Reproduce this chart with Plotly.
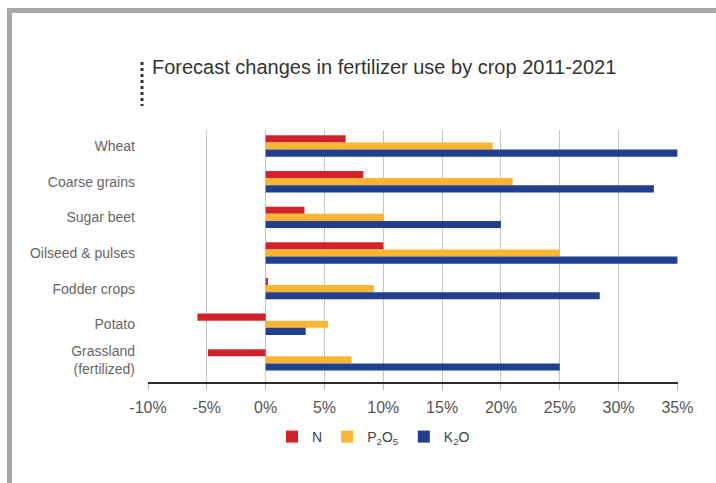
import plotly.graph_objects as go

crops = ["Wheat", "Coarse grains", "Sugar beet", "Oilseed & pulses",
         "Fodder crops", "Potato", "Grassland<br>(fertilized)"]
n_vals = [6.8, 8.3, 3.3, 10.0, 0.2, -5.8, -4.9]
p2o5_vals = [19.3, 21.0, 10.0, 25.0, 9.2, 5.3, 7.3]
k2o_vals = [35.0, 33.0, 20.0, 35.0, 28.4, 3.4, 25.0]
tick_vals = [-10, -5, 0, 5, 10, 15, 20, 25, 30, 35]
tick_text = ["-10%", "-5%", "0%", "5%", "10%", "15%", "20%", "25%", "30%", "35%"]

W, H = 716, 483
ML, MR, MT, MB = 148, 38, 130, 101
PW, PH = W - ML - MR, H - MT - MB

def px(x):
    return (x - ML) / PW

def py(y):
    return (H - MB - y) / PH

FONT = "Liberation Sans, Arial, sans-serif"

fig = go.Figure()
fig.add_trace(go.Bar(y=crops, x=n_vals, name="N", orientation="h",
                     marker=dict(color="#d2232a", line=dict(width=0))))
fig.add_trace(go.Bar(y=crops, x=p2o5_vals, name="P<sub>2</sub>O<sub>5</sub>", orientation="h",
                     marker=dict(color="#f9b533", line=dict(width=0))))
fig.add_trace(go.Bar(y=crops, x=k2o_vals, name="K<sub>2</sub>O", orientation="h",
                     marker=dict(color="#213f8f", line=dict(width=0))))

fig.update_layout(
    width=W, height=H,
    margin=dict(l=ML, r=MR, t=MT, b=MB, pad=0),
    paper_bgcolor="white", plot_bgcolor="white",
    barmode="group", bargap=0.40, bargroupgap=0,
    font=dict(family=FONT, color="#555555", size=14),
    title=dict(text="Forecast changes in fertilizer use by crop 2011-2021",
               x=152 / W, xanchor="left", y=1 - 67 / H, yanchor="middle",
               font=dict(family=FONT, size=20, color="#333333")),
    xaxis=dict(range=[-10, 35.05], tickvals=tick_vals, ticktext=tick_text,
               showgrid=True, gridcolor="#c4c4c4", gridwidth=1, zeroline=False,
               showline=True, linecolor="#2a2a2a", linewidth=2,
               ticks="outside", ticklen=6, tickcolor="#bbbbbb", tickwidth=1,
               ticklabelstandoff=4,
               tickfont=dict(size=16, color="#555555")),
    yaxis=dict(range=[6.62, -0.45], showgrid=False, zeroline=False,
               showline=False, ticks="", ticklabelstandoff=12,
               tickfont=dict(size=14, color="#666666")),
    legend=dict(orientation="h", x=px(272), xanchor="left", y=py(437), yanchor="middle",
                font=dict(size=14, color="#444444"), itemwidth=30,
                bgcolor="rgba(0,0,0,0)"),
    showlegend=True,
    shapes=[
        dict(type="line", xref="paper", yref="paper", x0=px(-10), x1=px(-10),
             y0=py(130), y1=py(382), line=dict(color="#c4c4c4", width=1), layer="below"),
        dict(type="line", xref="paper", yref="paper", x0=px(142), x1=px(142),
             y0=py(62), y1=py(106), line=dict(color="#333333", width=3, dash="3px,3px")),
        dict(type="rect", xref="paper", yref="paper", x0=px(7), x1=px(12),
             y0=py(H + 5), y1=py(8), fillcolor="#a8a8a8", line=dict(width=0)),
        dict(type="rect", xref="paper", yref="paper", x0=px(7), x1=px(W + 5),
             y0=py(13), y1=py(8), fillcolor="#a8a8a8", line=dict(width=0)),
    ],
)

fig.write_html("out.html")
